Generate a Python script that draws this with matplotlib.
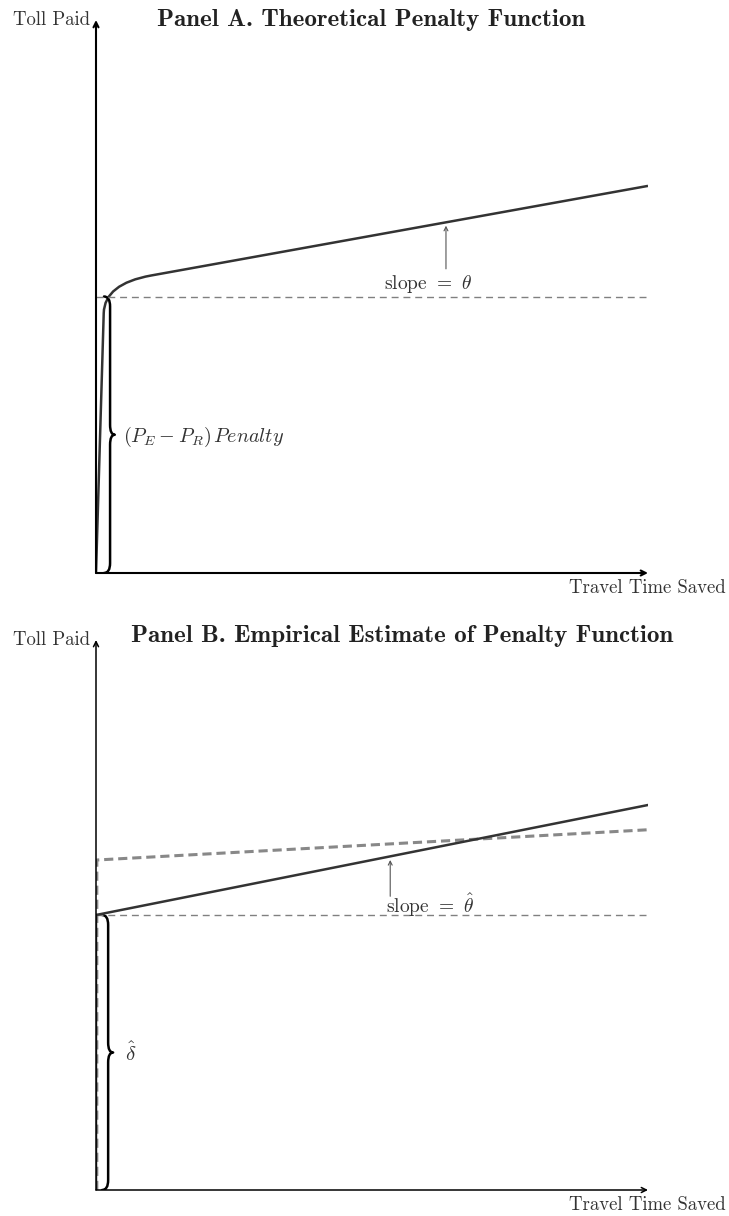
import numpy as np
import matplotlib
matplotlib.use("Agg")
import matplotlib.pyplot as plt
from matplotlib.path import Path
from matplotlib.patches import PathPatch

plt.rcParams['font.family'] = ['cmr10', 'DejaVu Serif']
plt.rcParams['mathtext.fontset'] = 'cm'
plt.rcParams['axes.formatter.use_mathtext'] = True

# ---- data (axis units 0..100 on both axes) ----
penalty = 50                       # toll level where the penalty kicks in
# Panel A: theoretical curve (steep rise, bend, then linear with slope theta)
theory_x = [0.0, 1.4, 1.52, 10.0, 100.0]
theory_y = [0.0, 47.0, 52.3, 53.8, 70.0]
# Panel B: estimated line and the dashed comparison line
est_x = [0.0, 0.0, 100.0]
est_y = [0.0, 50.0, 70.0]
alt_x = [0.15, 0.15, 100.0]
alt_y = [0.0, 60.0, 65.5]

titles = ['Panel A. Theoretical Penalty Function',
          'Panel B. Empirical Estimate of Penalty Function']
ylabel = 'Toll Paid'
xlabel = 'Travel Time Saved'

W, H = 729, 1216
fig = plt.figure(figsize=(W / 100, H / 100), dpi=100)


def make_axes(top_px, bottom_px):
    ax = fig.add_axes([96 / W, 1 - bottom_px / H, 552 / W, (bottom_px - top_px) / H])
    ax.set_xlim(0, 100)
    ax.set_ylim(0, 100)
    ax.axis('off')
    return ax


def draw_frame(ax, lw):
    arr = dict(arrowstyle='->', lw=lw, color='k', shrinkA=0, shrinkB=0, mutation_scale=9)
    ax.annotate('', xy=(0, 100), xytext=(0, 0), arrowprops=arr, annotation_clip=False)
    ax.annotate('', xy=(100, 0), xytext=(0, 0), arrowprops=arr, annotation_clip=False)
    ax.text(-1.0, 100.0, ylabel, ha='right', va='center', fontsize=13.5, color='#333333')
    ax.text(99.9, -2.8, xlabel, ha='center', va='center', fontsize=13.5, color='#333333',
            clip_on=False)


def brace(ax, x0, x1, xt, y0, y1, lw=1.8):
    ym = (y0 + y1) / 2
    verts = [(x0, y1), (x1, y1), (x1, y1 - 1.8),
             (x1, ym + 1.8), (x1, ym), (xt, ym),
             (x1, ym), (x1, ym - 1.8),
             (x1, y0 + 1.8), (x1, y0), (x0, y0)]
    codes = [Path.MOVETO, Path.CURVE3, Path.CURVE3,
             Path.LINETO, Path.CURVE3, Path.CURVE3,
             Path.CURVE3, Path.CURVE3,
             Path.LINETO, Path.CURVE3, Path.CURVE3]
    ax.add_patch(PathPatch(Path(verts, codes), fill=False, lw=lw, ec='k',
                           capstyle='round', joinstyle='round'))


# ---------------- Panel A ----------------
axA = make_axes(20, 573)
draw_frame(axA, 1.5)
axA.plot([0, 100], [penalty, penalty], ls=(0, (5, 3.5)), lw=1.0, color='#808080')
codes = [Path.MOVETO, Path.LINETO, Path.CURVE3, Path.CURVE3, Path.LINETO]
axA.add_patch(PathPatch(Path(list(zip(theory_x, theory_y)), codes), fill=False,
                        lw=1.8, ec='#333333'))
brace(axA, 1.45, 2.55, 3.4, 0, penalty)
axA.text(4.9, 24.6, r'$(P_E - P_R)\,Penalty$', ha='left', va='center',
         fontsize=14.5, color='#333333')
axA.annotate('', xy=(63.4, 62.8), xytext=(63.4, 55.0),
             arrowprops=dict(arrowstyle='->', lw=0.8, color='#555555', shrinkA=0,
                             shrinkB=0, mutation_scale=7))
axA.text(60.1, 52.3, r'slope $=$ $\theta$', ha='center', va='center', fontsize=14,
         color='#333333')
axA.text(49.8, 100.0, titles[0], ha='center', va='center', fontsize=18,
         fontfamily='cmb10', color='#222222')

# ---------------- Panel B ----------------
axB = make_axes(640, 1190)
draw_frame(axB, 1.1)
axB.plot([0, 100], [penalty, penalty], ls=(0, (5, 3.5)), lw=1.0, color='#808080')
axB.plot(alt_x, alt_y, ls=(0, (3, 1.6)), lw=2.2, color='#888888')
axB.plot(est_x, est_y, lw=1.8, color='#333333', solid_joinstyle='round')
brace(axB, 1.1, 2.2, 3.1, 0, penalty)
axB.text(6.2, 24.9, r'$\hat{\delta}$', ha='center', va='center',
         fontsize=15, color='#333333')
axB.annotate('', xy=(53.3, 60.0), xytext=(53.3, 53.4),
             arrowprops=dict(arrowstyle='->', lw=0.8, color='#555555', shrinkA=0,
                             shrinkB=0, mutation_scale=7))
axB.text(60.5, 51.8, r'slope $=$ $\hat{\theta}$', ha='center', va='center',
         fontsize=14, color='#333333')
axB.text(55.4, 100.7, titles[1], ha='center', va='center', fontsize=18,
         fontfamily='cmb10', color='#222222')

fig.savefig('out.png', dpi=100)
